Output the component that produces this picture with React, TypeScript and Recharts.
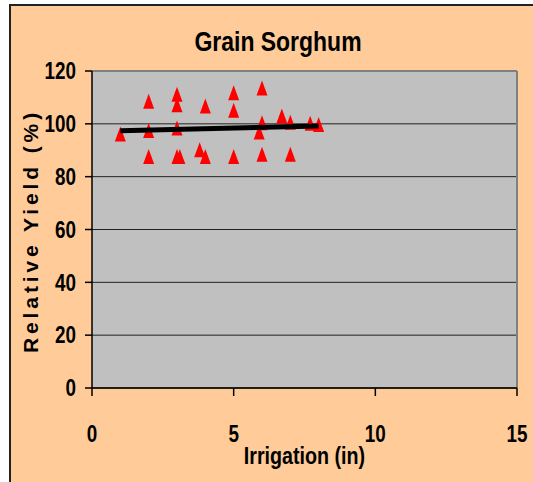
import { ScatterChart, Scatter, XAxis, YAxis, CartesianGrid, ReferenceLine } from "recharts";

// observed points (irrigation in, relative yield %)
const irrigation = [1, 2, 2, 2, 3, 3, 3, 3, 3.1, 3.8, 4, 4, 5, 5, 5, 5.9, 6, 6, 6, 6.7, 7, 7, 7.7, 8];
const yieldPct = [96, 108.4, 97.3, 87.4, 111, 107, 98.2, 87.4, 87.4, 90, 106.6, 87.4, 87.4, 111.6, 105, 96.7, 113.4, 100.2, 88.3, 102.8, 100.4, 88.3, 100, 99.6];

// linear trend endpoints
const trendX = [1, 8];
const trendY = [97.4, 99.2];

const xTicks = [0, 5, 10, 15];
const yTicks = [0, 20, 40, 60, 80, 100, 120];

const points = irrigation.map((x, i) => ({ x, y: yieldPct[i] }));
const trend = trendX.map((x, i) => ({ x, y: trendY[i] }));

// Arial Narrow is not installed: squeeze Liberation Sans instead
const font = "'Liberation Sans', Arial, sans-serif";
const squeeze = 0.82;

function Triangle(props: any) {
  const { cx, cy } = props;
  if (cx == null || cy == null) return <g />;
  return <polygon points={`${cx},${cy - 8} ${cx + 5.5},${cy + 7} ${cx - 5.5},${cy + 7}`} fill="#ff0000" />;
}

function NoShape() {
  return <g />;
}

function XTick(props: any) {
  const { x, y, payload } = props;
  return (
    <text
      transform={`translate(${x},${y}) scale(${squeeze},1)`}
      textAnchor="middle"
      dy="0.71em"
      fontFamily={font}
      fontWeight="bold"
      fontSize={23}
      fill="#000"
    >
      {payload.value}
    </text>
  );
}

function YTick(props: any) {
  const { x, y, payload } = props;
  return (
    <text
      transform={`translate(${x},${y}) scale(${squeeze},1)`}
      textAnchor="end"
      dy="0.355em"
      fontFamily={font}
      fontWeight="bold"
      fontSize={23}
      fill="#000"
    >
      {payload.value}
    </text>
  );
}

const squeezed = {
  fontFamily: font,
  fontWeight: "bold" as const,
  color: "#000",
  transform: `scaleX(${squeeze})`,
  whiteSpace: "nowrap" as const,
};

export default function App() {
  return (
    <div style={{ position: "absolute", left: 0, top: 0, width: 533, height: 482, background: "#fff", overflow: "hidden" }}>
      <div
        style={{
          position: "absolute",
          left: 9,
          top: 4,
          width: 540,
          height: 500,
          background: "#FFCC99",
          borderTop: "2px solid #222",
          borderLeft: "2px solid #222",
        }}
      />
      <div style={{ position: "absolute", left: 0, top: 0, width: 533, height: 482 }}>
        <ScatterChart width={533} height={482} margin={{ top: 71, right: 16, bottom: 0, left: 0 }}>
          <CartesianGrid vertical={false} stroke="#222" fill="#C0C0C0" fillOpacity={1} />
          <XAxis
            type="number"
            dataKey="x"
            domain={[0, 15]}
            ticks={xTicks}
            height={94}
            stroke="#000"
            strokeWidth={1.5}
            tickSize={8}
            tickMargin={30}
            tick={XTick}
          />
          <YAxis
            type="number"
            dataKey="y"
            domain={[0, 120]}
            ticks={yTicks}
            width={92}
            stroke="#000"
            strokeWidth={1.5}
            tickSize={7}
            tickMargin={9}
            tick={YTick}
          />
          <ReferenceLine y={120} stroke="#808080" strokeWidth={2} />
          <ReferenceLine x={15} stroke="#808080" strokeWidth={2} />
          <Scatter data={points} shape={Triangle} isAnimationActive={false} />
          <Scatter
            data={trend}
            shape={NoShape}
            line={{ stroke: "#000", strokeWidth: 5 }}
            isAnimationActive={false}
          />
        </ScatterChart>
      </div>
      <div
        style={{
          ...squeezed,
          position: "absolute",
          left: 0,
          top: 26,
          width: 556,
          textAlign: "center",
          fontSize: 28,
          lineHeight: "32px",
        }}
      >
        Grain Sorghum
      </div>
      <div
        style={{
          ...squeezed,
          position: "absolute",
          left: 92,
          top: 442,
          width: 425,
          textAlign: "center",
          fontSize: 24,
          lineHeight: "28px",
        }}
      >
        Irrigation (in)
      </div>
      <div
        style={{
          position: "absolute",
          left: 31,
          top: 231,
          width: 300,
          height: 26,
          marginLeft: -150,
          marginTop: -13,
          transform: "rotate(-90deg)",
          textAlign: "center",
          fontFamily: font,
          fontWeight: "bold",
          fontSize: 21,
          letterSpacing: 3.9,
          lineHeight: "26px",
          color: "#000",
          whiteSpace: "nowrap",
        }}
      >
        Relative Yield (%)
      </div>
    </div>
  );
}
